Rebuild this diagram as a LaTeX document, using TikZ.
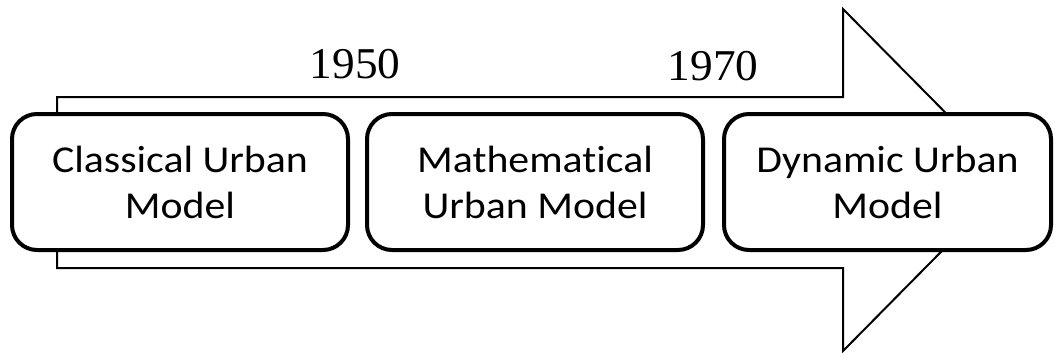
\documentclass[tikz,border=0pt]{standalone}
\usepackage{fontspec}
\newfontfamily\boxfont[FakeStretch=1.1,Ligatures=NoCommon]{Carlito}
\newfontfamily\yearfont[FakeStretch=1.03]{Liberation Serif}
\begin{document}
\begin{tikzpicture}[x=1pt,y=-1pt,
  stagebox/.style={draw=black, fill=white, line width=4pt, rounded corners=25pt,
    minimum width=336pt, minimum height=136pt, inner sep=0pt, align=center,
    font=\boxfont\fontsize{38}{46}\selectfont},
  yearlabel/.style={anchor=base, inner sep=0pt, font=\yearfont\fontsize{44}{50}\selectfont},
  bigarrow/.style={draw=black, line width=2pt, fill=white, line join=miter}]
\useasboundingbox (0,0) rectangle (1055,353);
\draw[bigarrow] (57,97) -- (843,97) -- (843,9) -- (1012,180) -- (843,351) -- (843,268) -- (57,268) -- cycle;
\node[stagebox] (classical) at (180,182) {Classical Urban\\Model};
\node[stagebox] (mathematical) at (535,182) {Mathematical\\Urban Model};
\node[stagebox, minimum width=327pt] (dynamic) at (887.5,182) {Dynamic Urban\\Model};
\node[yearlabel] (y1950) at (355,78) {1950};
\node[yearlabel] (y1970) at (713,81) {1970};
\end{tikzpicture}
\end{document}
